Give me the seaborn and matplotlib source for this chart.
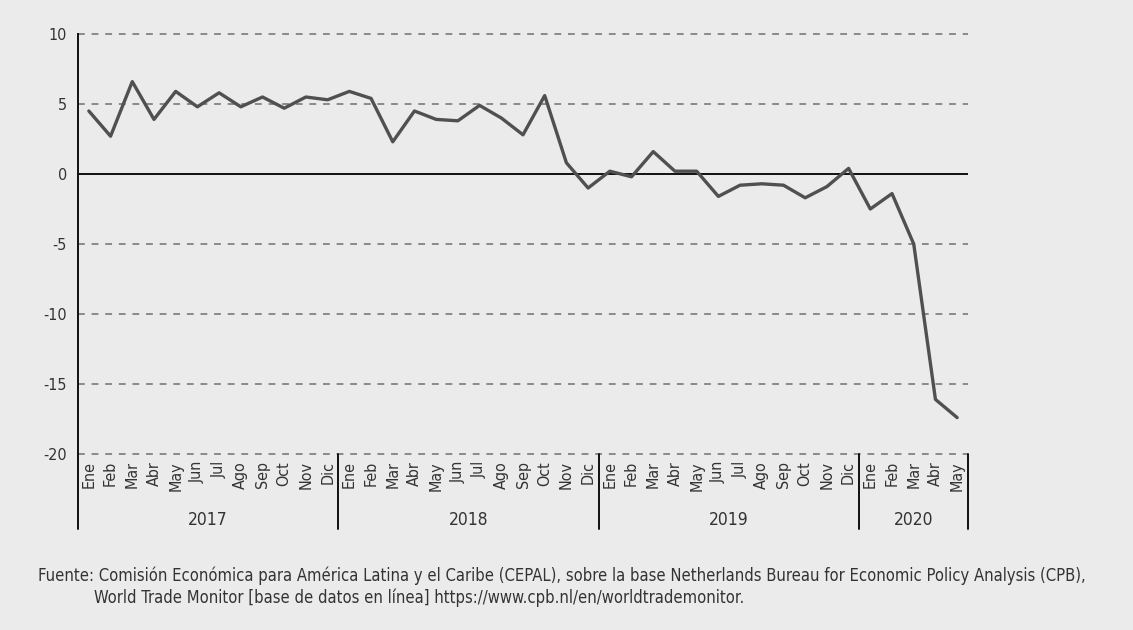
import matplotlib
matplotlib.use("Agg")
import matplotlib.pyplot as plt
import matplotlib.transforms as mtransforms
import seaborn as sns
import pandas as pd
import numpy as np

months = ["Ene", "Feb", "Mar", "Abr", "May", "Jun", "Jul", "Ago", "Sep", "Oct", "Nov", "Dic"]
years = ["2017", "2018", "2019", "2020"]
months_per_year = [12, 12, 12, 5]

values_2017 = [4.5, 2.7, 6.6, 3.9, 5.9, 4.8, 5.8, 4.8, 5.5, 4.7, 5.5, 5.3]
values_2018 = [5.9, 5.4, 2.3, 4.5, 3.9, 3.8, 4.9, 4.0, 2.8, 5.6, 0.8, -1.0]
values_2019 = [0.2, -0.2, 1.6, 0.2, 0.2, -1.6, -0.8, -0.7, -0.8, -1.7, -0.9, 0.4]
values_2020 = [-2.5, -1.4, -5.0, -16.1, -17.4]

yticks = [10, 5, 0, -5, -10, -15, -20]

source_line1 = ("Fuente: Comisión Económica para América Latina y el Caribe (CEPAL), sobre la base "
                "Netherlands Bureau for Economic Policy Analysis (CPB),")
source_line2 = "World Trade Monitor [base de datos en línea] https://www.cpb.nl/en/worldtrademonitor."

values = values_2017 + values_2018 + values_2019 + values_2020
labels = []
year_col = []
for y, n in zip(years, months_per_year):
    labels += months[:n]
    year_col += [y] * n
df = pd.DataFrame({"idx": np.arange(len(values)), "value": values, "mes": labels, "anio": year_col})

sns.set_theme(style="white")
plt.rcParams["font.family"] = ["DejaVu Sans"]
plt.rcParams["font.stretch"] = "condensed"

BG = "#ebebeb"
TXT = "#333333"
fig = plt.figure(figsize=(11.33, 6.30), dpi=100, facecolor=BG)
ax = fig.add_axes([78 / 1133, 1 - 454 / 630, (968 - 78) / 1133, (454 - 34) / 630])
ax.set_facecolor(BG)

n = len(values)
ax.set_xlim(-0.5, n - 0.5)
ax.set_ylim(-20, 10)

# gridlines
for yv in yticks:
    if yv == 0:
        ax.axhline(0, color="#111111", lw=1.4, zorder=2)
    else:
        ax.axhline(yv, color="#8a8a8a", lw=1.4, ls=(0, (3.5, 3.5)), zorder=1, clip_on=False)

sns.lineplot(data=df, x="idx", y="value", ax=ax, color="#505050", lw=2.4, zorder=3)

# spines
for s in ["top", "right", "bottom"]:
    ax.spines[s].set_visible(False)
ax.spines["left"].set_color("#111111")
ax.spines["left"].set_linewidth(1.4)

ax.set_yticks(yticks)
ax.set_yticklabels([str(v) for v in yticks], fontsize=11.5, color=TXT)
ax.tick_params(axis="y", direction="inout", length=8, width=1.1, color="#111111", pad=4)

ax.set_xticks(df["idx"])
ax.set_xticklabels(df["mes"], rotation=90, fontsize=11.5, color=TXT, va="top")
ax.tick_params(axis="x", which="major", length=0, pad=5)
ax.set_xticks(np.arange(0.5, n - 1, 1.0), minor=True)
ax.tick_params(axis="x", which="minor", length=4, width=1.0, color="#555555", direction="out")
ax.set_xlabel("")
ax.set_ylabel("")

trans = mtransforms.blended_transform_factory(ax.transData, ax.transAxes)
start = -0.5
bounds = [start]
for yv, m in zip(years, months_per_year):
    end = start + m
    ax.text((start + end) / 2, -0.158, yv, transform=trans, ha="center", va="center",
            fontsize=12.5, color=TXT)
    start = end
    bounds.append(end)
for b in bounds:
    ax.plot([b, b], [0.0, -0.178], transform=trans, color="#111111",
            lw=1.4, clip_on=False, zorder=4)

fig.text(38 / 1133, 1 - 576 / 630, source_line1, fontsize=11.9, color=TXT, ha="left", va="center")
fig.text(94 / 1133, 1 - 598 / 630, source_line2, fontsize=11.9, color=TXT, ha="left", va="center")

fig.savefig("out.png", dpi=100, facecolor=BG)
